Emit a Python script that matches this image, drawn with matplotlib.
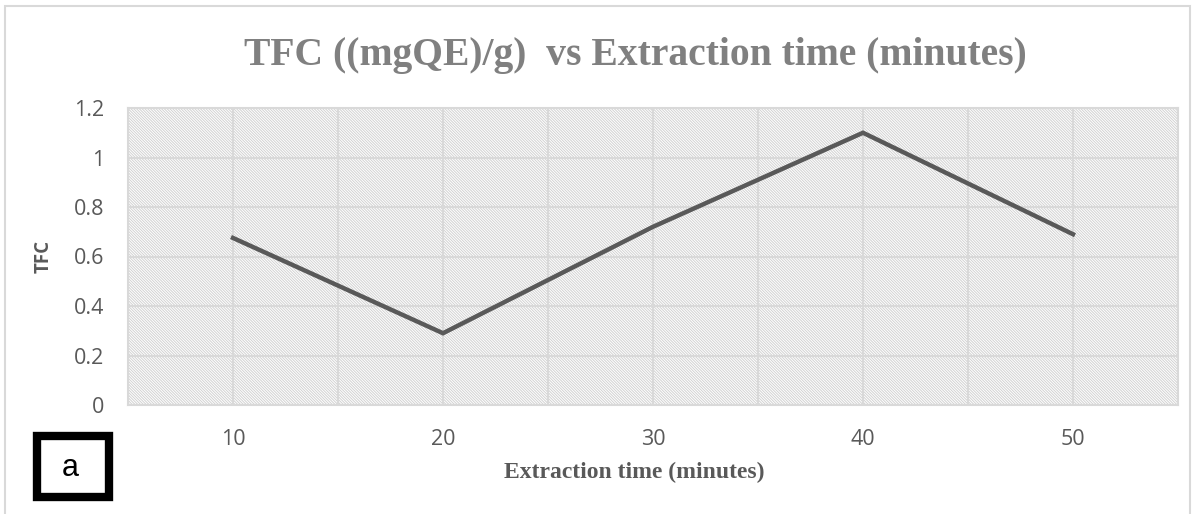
import matplotlib
matplotlib.use("Agg")
import matplotlib.pyplot as plt
from matplotlib.patches import Rectangle

# data
times = [10, 20, 30, 40, 50]
tfc = [0.675, 0.29, 0.72, 1.10, 0.69]
y_ticks = [0, 0.2, 0.4, 0.6, 0.8, 1, 1.2]
y_tick_labels = ["0", "0.2", "0.4", "0.6", "0.8", "1", "1.2"]

INK = "#595959"
GRID = "#d9d9d9"
TITLE = "#808080"

plt.rcParams["hatch.linewidth"] = 0.7
plt.rcParams["hatch.color"] = "#d2d2d2"

W, H = 1195, 514
fig = plt.figure(figsize=(W / 100, H / 100), dpi=100)
fig.patch.set_facecolor("white")

# chart-area border
fig.patches.append(Rectangle((5 / W, -0.2), (1190 - 5) / W, 1.2 - 6 / H,
                             transform=fig.transFigure, fill=False,
                             edgecolor=GRID, linewidth=1.5, zorder=0))

ax = fig.add_axes([128 / W, 1 - 405 / H, (1178 - 128) / W, (405 - 108) / H])
ax.set_facecolor("white")
ax.add_patch(Rectangle((0, 0), 1, 1, transform=ax.transAxes, facecolor="white",
                       edgecolor="#d2d2d2", hatch="\\" * 12, linewidth=0, zorder=0))

ax.plot(times, tfc, color=INK, lw=3.2, solid_joinstyle="miter", zorder=4)

ax.set_xlim(5, 55)
ax.set_ylim(0, 1.2)
ax.set_xticks(range(5, 56, 5))
ax.set_xticklabels([str(v) if v in times else "" for v in range(5, 56, 5)],
                   fontsize=15.5, color=INK, family="Open Sans")
ax.set_yticks(y_ticks)
ax.set_yticklabels(y_tick_labels, fontsize=15.5, color=INK, family="Open Sans")
ax.tick_params(axis="both", length=0)
ax.tick_params(axis="y", pad=17)
ax.tick_params(axis="x", pad=17)
ax.grid(True, color=GRID, lw=1.5, zorder=1)
ax.set_axisbelow(True)
for s in ax.spines.values():
    s.set_color(GRID)
    s.set_linewidth(1.5)

fig.text(635 / W, 1 - 55 / H, "TFC ((mgQE)/g)  vs Extraction time (minutes)",
         ha="center", va="center", fontsize=28.5, fontweight="bold",
         color=TITLE, family="Liberation Serif")
fig.text(44 / W, 1 - 256 / H, "TFC", ha="center", va="center", rotation=90,
         fontsize=13.5, fontweight="bold", color=INK, family="Open Sans")
fig.text(634 / W, 1 - 472 / H, "Extraction time (minutes)", ha="center",
         va="center", fontsize=17, fontweight="bold", color=INK,
         family="Liberation Serif")

# panel label box
fig.patches.append(Rectangle((37 / W, 1 - 497 / H), 72 / W, 61 / H,
                             transform=fig.transFigure, fill=False,
                             edgecolor="black", linewidth=6, zorder=5))
fig.text(70 / W, 1 - 468 / H, "a", ha="center", va="center", fontsize=22,
         color="black", family="Liberation Sans")

fig.savefig("out.png", dpi=100, facecolor="white")
